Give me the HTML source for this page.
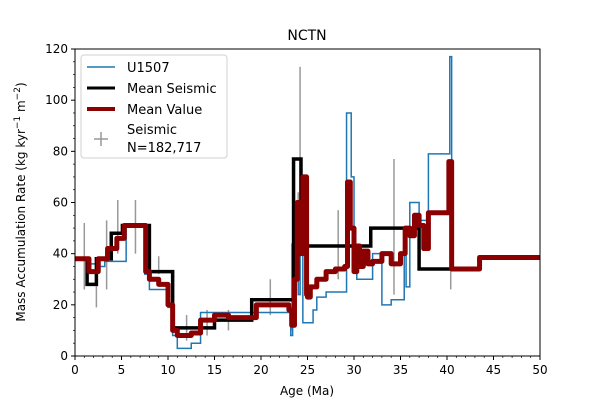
<!DOCTYPE html>
<html><head><meta charset="utf-8"><style>
body{margin:0;background:#fff}
svg{font-family:"DejaVu Sans","Liberation Sans",sans-serif}
</style></head><body>
<svg id="c" width="600" height="400">
<text x="307" y="40" font-size="14" text-anchor="middle">NCTN</text>
<g id="grid"></g>
<g id="marks"></g>
<rect x="75" y="49" width="465" height="307" fill="none" stroke="#000" stroke-width="1"/>
<g id="axes"></g>
<text x="307" y="395" font-size="12" text-anchor="middle">Age (Ma)</text>
<text transform="translate(25,202) rotate(-90)" font-size="12" text-anchor="middle">Mass Accumulation Rate (kg kyr<tspan dy="-5" font-size="9">−1</tspan><tspan dy="5"> m</tspan><tspan dy="-5" font-size="9">−2</tspan><tspan dy="5">)</tspan></text>
<g>
<rect x="81" y="55" width="146" height="103" rx="3" fill="#fff" stroke="#ccc" opacity="0.9"/>
<line x1="87" y1="67" x2="115" y2="67" stroke="#1f77b4" stroke-width="1.5"/>
<text x="127" y="72" font-size="13">U1507</text>
<line x1="87" y1="88" x2="115" y2="88" stroke="#000" stroke-width="3"/>
<text x="127" y="93" font-size="13">Mean Seismic</text>
<line x1="87" y1="109" x2="115" y2="109" stroke="#8b0000" stroke-width="4"/>
<text x="127" y="114" font-size="13">Mean Value</text>
<line x1="101" y1="132" x2="101" y2="146" stroke="#999" stroke-width="1.5"/>
<line x1="94" y1="139" x2="108" y2="139" stroke="#999" stroke-width="1.5"/>
<text x="127" y="134" font-size="13">Seismic</text>
<text x="127" y="152" font-size="13">N=182,717</text>
</g>
</svg>
<script>
const xTicks=[0,5,10,15,20,25,30,35,40,45,50];
const yTicks=[0,20,40,60,80,100,120];
const blueAge=[0,1.5,2.5,3.2,4,5,5.5,7.5,8,9,10,10.5,11,12.5,13.5,16.5,18.5,23,23.2,23.4,23.6,24,24.2,24.5,25.3,25.6,26,27,28,29,29.2,29.7,30,30.3,30.5,31,32,33,34,35,35.4,35.6,36,37,38,40,40.3,40.5,43.5,50];
const blueVal=[38,36,35,37,37,37,51,32,26,26,19,8,3,5,17,17,17,17,8,27,41,24,41,13,13,18,23,25,25,25,95,70,38,30,30,30,40,20,22,22,48,27,60,53,79,79,117,34,38.5,38.5];
const blackAge=[0,1.3,2.3,3.9,5.1,8,10.5,15,19,23.5,24.3,31.8,37,40.5,43.5,50];
const blackVal=[38,28,38,48,51,33,11,14,22,77,43,50,34,34,38.5,38.5];
const redAge=[0,1.5,2.5,3.5,4.5,5.3,7.6,8,9,10,10.5,11,12.5,13.5,15,16.5,19.5,22.5,23,23.3,23.6,23.9,24.2,24.5,24.9,25,25.3,26,27,28,29,29.3,29.6,30,30.3,30.6,31,31.5,32,33,34,35,35.5,36,36.5,37,37.5,38,40.2,40.5,43.5,50];
const redVal=[38,33,38,42,46,51,33,30,28,20,10,8,9,14,16,15,20,20,18,12,30,60,40,70,24,23,27,30,33,34,35,68,50,33,43,35,41,36,37,40,36,40,50,47,55,51,42,56,76,34,38.5,38.5];
const errAge=[1,2.3,3.4,4.6,6.5,9,12,14.2,16.5,21,23.3,24,24.2,28.3,34.3,40.4];
const errLo=[26,19,26,40,40,32,6,8,10,16,10,30,24,30,24,26];
const errHi=[52,36,53,61,61,39,16,18,18,30,44,64,113,57,77,42];
const X=a=>75+a*9.3, Y=v=>356-v*2.5583;
const NS='http://www.w3.org/2000/svg';
function mk(t,at,parent){const e=document.createElementNS(NS,t);for(const k in at)e.setAttribute(k,at[k]);document.getElementById(parent).appendChild(e);return e;}
const ax='axes';
xTicks.forEach(t=>{const l=mk('line',{x1:X(t),x2:X(t),y1:356,y2:360,stroke:'#000'},ax);


const tx=mk('text',{x:X(t),y:374,'font-size':12,'text-anchor':'middle'},ax);tx.textContent=t;

});
for(let a=1;a<50;a++){if(a%5)mk('line',{x1:X(a),x2:X(a),y1:356,y2:358,stroke:'#000','stroke-width':0.7},ax);}
yTicks.forEach(t=>{const l=mk('line',{x1:71,x2:75,y1:Y(t),y2:Y(t),stroke:'#000'},ax);


const tx=mk('text',{x:68,y:Y(t)+4,'font-size':12,'text-anchor':'end'},ax);tx.textContent=t;

});
for(let v=5;v<120;v+=5){if(v%20)mk('line',{x1:73,x2:75,y1:Y(v),y2:Y(v),stroke:'#000','stroke-width':0.7},ax);}
function step(A,V){let d='M'+X(A[0])+' '+Y(V[0]);for(let i=1;i<A.length;i++){d+=' H'+X(A[i])+' V'+Y(V[i]);}return d;}
errAge.forEach((a,i)=>{const l=mk('line',{x1:X(a),x2:X(a),y1:Y(errLo[i]),y2:Y(errHi[i]),stroke:'#999','stroke-width':1.5},'marks');

});
const b=mk('path',{d:step(blueAge,blueVal),fill:'none',stroke:'#1f77b4','stroke-width':1.5},'marks');


const k=mk('path',{d:step(blackAge,blackVal),fill:'none',stroke:'#000','stroke-width':3.5},'marks');


const r=mk('path',{d:step(redAge,redVal),fill:'none',stroke:'#8b0000','stroke-width':5,'stroke-linejoin':'round'},'marks');


</script>
</body></html>
